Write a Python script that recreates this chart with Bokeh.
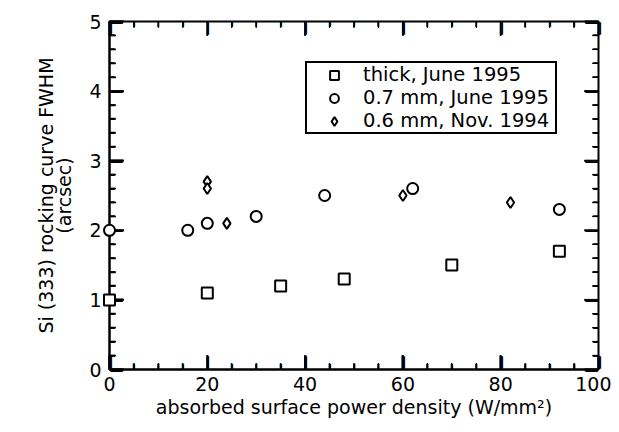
import math
from bokeh.plotting import figure
from bokeh.models import Legend, LegendItem, Range1d, FixedTicker
from bokeh.core.properties import value
from bokeh.embed import file_html
from bokeh.resources import INLINE

# data
thick_x = [0, 20, 35, 48, 70, 92]
thick_y = [1.0, 1.1, 1.2, 1.3, 1.5, 1.7]
mm07_x = [0, 16, 20, 30, 44, 62, 92]
mm07_y = [2.0, 2.0, 2.1, 2.2, 2.5, 2.6, 2.3]
mm06_x = [20, 20, 24, 60, 82]
mm06_y = [2.7, 2.6, 2.1, 2.5, 2.4]
labels = ["thick, June 1995", "0.7 mm, June 1995", "0.6 mm, Nov. 1994"]
x_ticks = [0, 20, 40, 60, 80, 100]
y_ticks = [0, 1, 2, 3, 4, 5]
x_minor = [v for v in range(0, 101, 5) if v % 20 != 0]
y_minor = [round(v * 0.2, 1) for v in range(0, 26) if v % 5 != 0]

FONT = "DejaVu Sans"
X0, X1, Y0, Y1 = 0, 100, 0, 5
FRAME_W, FRAME_H = 489, 348
MAJ, MIN = 14, 6  # tick lengths in px

p = figure(width=611, height=424, output_backend="svg", toolbar_location=None,
           x_range=Range1d(X0, X1), y_range=Range1d(Y0, Y1),
           min_border_left=109, min_border_right=13, min_border_top=21, min_border_bottom=55)
p.outline_line_color = "black"
p.outline_line_width = 2
p.outline_line_alpha = 1
p.xgrid.visible = False
p.ygrid.visible = False


def style(ax):
    ax.axis_line_color = "black"
    ax.axis_line_width = 2
    ax.major_tick_in = MAJ
    ax.major_tick_out = 0
    ax.minor_tick_in = MIN
    ax.minor_tick_out = 0
    ax.major_tick_line_width = 2
    ax.minor_tick_line_width = 1.5
    ax.major_tick_line_color = "black"
    ax.minor_tick_line_color = "black"
    ax.major_label_text_font = FONT
    ax.major_label_text_font_size = "19px"
    ax.major_label_text_color = "black"
    ax.axis_label_text_font = FONT
    ax.axis_label_text_font_size = "19px"
    ax.axis_label_text_font_style = "normal"
    ax.axis_label_text_color = "black"


xb = p.xaxis[0]
xb.ticker = FixedTicker(ticks=x_ticks, minor_ticks=x_minor)
xb.axis_label = "absorbed surface power density (W/mm²)"
style(xb)
xb.major_label_standoff = 7
xb.axis_label_standoff = 2

yl = p.yaxis[0]
yl.ticker = FixedTicker(ticks=y_ticks, minor_ticks=y_minor)
yl.axis_label = "Si (333) rocking curve FWHM\n(arcsec)"
style(yl)
yl.major_label_standoff = 8
yl.axis_label_standoff = 11
yl.axis_label_text_line_height = 0.85

# inward tick marks on all four sides, built from the tick lists
dx = (X1 - X0) / FRAME_W
dy = (Y1 - Y0) / FRAME_H


def tick_patches(xs, ys):
    p.patches(xs=xs, ys=ys, fill_color="black", line_color="black", line_width=1,
              level="overlay")


def tick_text(xc, yc, length, angle):
    n = len(xc)
    ch = "\u2014" if length == MAJ else "\u2013"
    fs = "%dpx" % (length if length == MAJ else 2 * length)
    p.text(x=xc, y=yc, text=[ch] * n, angle=angle, text_font=value(FONT),
           text_font_size=fs, text_font_style="bold", text_color="black",
           text_align="center", text_baseline="middle", level="overlay")


def xticks(vals, length, w):
    half = (w - 1) / 2 * dx
    for edge, sgn in ((Y0, 1), (Y1, -1)):
        inner = edge + sgn * length * dy
        xs = [[v - half, v + half, v + half, v - half] for v in vals]
        ys = [[edge, edge, inner, inner] for v in vals]
        tick_patches(xs, ys)
        tick_text(list(vals), [edge + sgn * length / 2 * dy] * len(vals), length, math.pi / 2)


def yticks(vals, length, w):
    half = (w - 1) / 2 * dy
    for edge, sgn in ((X0, 1), (X1, -1)):
        inner = edge + sgn * length * dx
        xs = [[edge, inner, inner, edge] for v in vals]
        ys = [[v - half, v - half, v + half, v + half] for v in vals]
        tick_patches(xs, ys)
        tick_text([edge + sgn * length / 2 * dx] * len(vals), list(vals), length, 0)


xticks(x_ticks, MAJ, 2)
xticks(x_minor, MIN, 1.5)
yticks(y_ticks, MAJ, 2)
yticks(y_minor, MIN, 1.5)

r1 = p.scatter(thick_x, thick_y, marker="square", size=11, fill_color="white",
               line_color="black", line_width=2, level="overlay")
r2 = p.scatter(mm07_x, mm07_y, marker="circle", size=11, fill_color="white",
               line_color="black", line_width=2, level="overlay")
r3 = p.scatter(mm06_x, mm06_y, marker="diamond", size=11, fill_color="white",
               line_color="black", line_width=2, level="overlay")

legend = Legend(items=[LegendItem(label=labels[0], renderers=[r1]),
                       LegendItem(label=labels[1], renderers=[r2]),
                       LegendItem(label=labels[2], renderers=[r3])],
                location=(196, 235), padding=0, margin=0, spacing=0,
                glyph_width=54, glyph_height=22, label_height=22, label_width=192,
                label_standoff=2,
                label_text_font=FONT, label_text_font_size="19.5px", label_text_color="black",
                border_line_color="black", border_line_width=2, border_line_alpha=1,
                background_fill_color="white", background_fill_alpha=1)
p.add_layout(legend, "center")

open("out.html", "w").write(file_html(p, INLINE))
